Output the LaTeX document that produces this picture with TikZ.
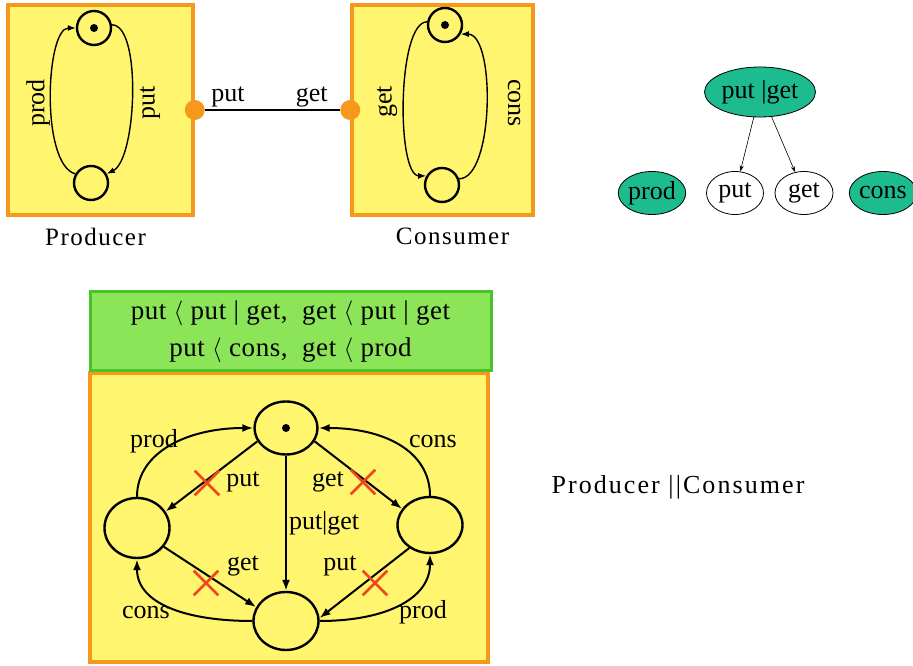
\documentclass[tikz,border=0pt]{standalone}
\usepackage{fontspec}
\setmainfont{Liberation Serif}
\usepackage{amsmath}
\usetikzlibrary{positioning,arrows.meta,shapes.geometric,shapes.misc}

\definecolor{boxyellow}{RGB}{255,245,110}
\definecolor{boxorange}{RGB}{246,152,28}
\definecolor{prioGreen}{RGB}{140,228,88}
\definecolor{prioBorder}{RGB}{70,196,40}
\definecolor{actTeal}{RGB}{28,188,142}
\definecolor{crossRed}{RGB}{240,70,30}

\tikzset{
  compbox/.style={draw=boxorange,fill=boxyellow,line width=3.5pt,inner sep=0pt},
  state/.style={circle,draw,line width=2.4pt,minimum size=34pt,inner sep=0pt},
  bigstate/.style={ellipse,draw,line width=2.4pt,inner sep=0pt},
  tok/.style={circle,fill,inner sep=0pt,minimum size=8pt},
  port/.style={circle,fill=boxorange,inner sep=0pt,minimum size=20pt},
  trans/.style={line width=1.4pt,-{Latex[length=8pt,width=6pt]}},
  btrans/.style={line width=2pt,-{Latex[length=11pt,width=8pt]}},
  xmark/.style={cross out,draw=crossRed,line width=2.6pt,minimum size=22pt,inner sep=0pt},
  act/.style={ellipse,draw,line width=.8pt,inner sep=0pt,minimum height=43pt,font=\fontsize{26}{30}\selectfont},
  caption/.style={font=\fontsize{25}{30}\selectfont\addfontfeatures{LetterSpace=6}},
}

\begin{document}
\begin{tikzpicture}[x=1pt,y=1pt,font=\fontsize{26}{30}\selectfont,inner sep=2pt]
    \useasboundingbox (0,0) rectangle (913,666);

    % producer and consumer
    \node[compbox,minimum width=185pt,minimum height=210pt] (prodbox) at (100.5,556) {};
    \node[compbox,minimum width=181pt,minimum height=210pt] (consbox) at (442.5,556) {};
    \node[caption,below=9pt of prodbox,xshift=-5pt] (prodcap) {Producer};
    \node[caption,below=9pt of consbox,xshift=10pt] (conscap) {Consumer};

    \node[state] (p0) at (94,638) {};
    \node[tok] (ptok) at (p0) {};
    \node[state] (p1) at (91,483) {};
    \draw[trans] (p1.150) .. controls +(-35,10) and +(-30,0) .. (p0.west);
    \draw[trans] (p0.10) .. controls +(30,0) and +(30,15) .. (p1.30);
    \node[rotate=90] (pprod) at (38,563) {prod};
    \node[rotate=90] (pput) at (150,563) {put};

    \node[state] (c0) at (445,641) {};
    \node[tok] (ctok) at (c0) {};
    \node[state] (c1) at (442,481) {};
    \draw[trans] (c0.170) .. controls +(-30,0) and +(-30,0) .. (c1.150);
    \draw[trans] (c1.20) .. controls +(35,0) and +(35,0) .. (c0.-30);
    \node[rotate=90] (cget) at (387,564) {get};
    \node[rotate=-90] (ccons) at (514,563) {cons};

    \node[port] (pport) at (prodbox.east) {};
    \node[port] (cport) at (consbox.west) {};
    \draw[line width=1.2pt] (pport) -- (cport) node[above,pos=.17] {put} node[above,pos=.79] {get};

    % priority tree
    \node[act,fill=actTeal,minimum width=111pt,minimum height=50pt] (pg) at (760,574) {put |get};
    \node[act,fill=actTeal,minimum width=63pt] (aprod) at (652,473) {prod};
    \node[act,minimum width=57pt] (aput) at (735,473) {put};
    \node[act,minimum width=58pt] (aget) at (804,473) {get};
    \node[act,fill=actTeal,minimum width=57pt] (acons) at (883,473) {cons};
    \draw[line width=.6pt,-{Stealth[length=6pt,width=4pt]}] (pg) -- (aput);
    \draw[line width=.6pt,-{Stealth[length=6pt,width=4pt]}] (pg.-65) -- (aget);

    % composed system
    \node[compbox,minimum width=398pt,minimum height=289pt] (pcbox) at (289,148.5) {};
    \node[draw=prioBorder,fill=prioGreen,line width=3pt,minimum width=401pt,minimum height=79pt,
          align=center,font=\fontsize{27}{37}\selectfont\addfontfeatures{LetterSpace=2}] (prio) at (290.5,334.5)
          {put $\langle$ put | get,~ get $\langle$ put | get\\ put $\langle$ cons,~ get $\langle$ prod};

    \node[bigstate,minimum width=63pt,minimum height=53pt] (s0) at (286,238) {};
    \node[tok] (stok) at (s0) {};
    \node[bigstate,minimum width=65pt,minimum height=60pt] (s1) at (137,138) {};
    \node[bigstate,minimum width=65pt,minimum height=56pt] (s2) at (430,141) {};
    \node[bigstate,minimum width=65pt,minimum height=58pt] (s3) at (286,45) {};

    \draw[btrans] (s0.205) -- (s1.30);
    \draw[btrans] (s0.-25) -- (s2.150);
    \draw[btrans] (s0) -- (s3) node[right,pos=.5] {put|get};
    \draw[btrans] (s1.-35) -- (s3.155);
    \draw[btrans] (s2.228) -- (s3.5);
    \draw[btrans] (s1.north) .. controls +(0,45) and +(-65,0) .. (s0.west);
    \draw[btrans] (s2.north) .. controls +(0,45) and +(65,0) .. (s0.east);
    \draw[btrans] (s3.west) .. controls +(-65,0) and +(0,-45) .. (s1.south);
    \draw[btrans] (s3.east) .. controls +(65,0) and +(0,-45) .. (s2.south);

    \node (lprod1) at (154,225) {prod};
    \node (lcons1) at (433,224) {cons};
    \node (lcons2) at (146,53) {cons};
    \node (lprod2) at (423,54) {prod};
    \node (lput1) at (243,184) {put};
    \node (lget1) at (328,184) {get};
    \node (lget2) at (243,100) {get};
    \node (lput2) at (340,100) {put};
    \node[xmark] (x1) at (207,183) {};
    \node[xmark] (x2) at (363,184) {};
    \node[xmark] (x3) at (206,83) {};
    \node[xmark] (x4) at (375,83) {};

    \node[caption,font=\fontsize{26}{30}\selectfont\addfontfeatures{LetterSpace=8}] (title) at (678,179) {Producer ||Consumer};
\end{tikzpicture}
\end{document}
